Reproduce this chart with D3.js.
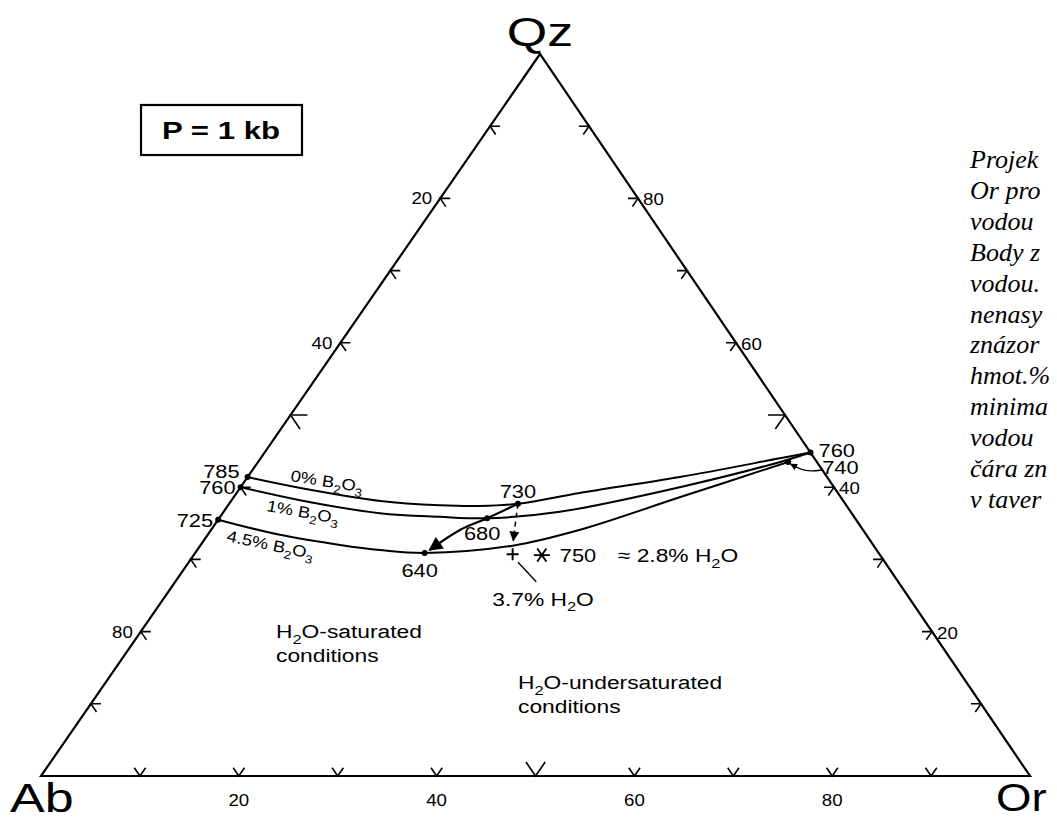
<!DOCTYPE html>
<html><head><meta charset="utf-8">
<script src="https://cdn.jsdelivr.net/npm/d3@7"></script>
<style>body{margin:0;background:#fff;overflow:hidden}svg{display:block}</style>
</head><body><svg id="c" width="1057" height="821"></svg>
<script>
// ---------- data (compositions in %, given as [Qz, Or]; Ab = 100 - Qz - Or) ----------
const apexLabels = ["Qz", "Ab", "Or"];
const gridSteps = [10, 20, 30, 40, 50, 60, 70, 80, 90];
const abTickLabels = [20, 40, 80];       // left edge (Ab %)
const qzTickLabels = [80, 60, 40, 20];   // right edge (Qz %)
const orTickLabels = [20, 40, 60, 80];   // base (Or %)

const curve0 = [[41.4,0],[39.9,6.1],[38.1,15.1],[37.5,21.4],[37.4,25.5],[37.7,29.2],[39.2,34.7],[41.4,43.7],[44.0,52.5],[44.8,55.2]];
const curve1 = [[40.0,0],[38.2,6.9],[36.4,15.9],[35.9,22.2],[35.7,27.1],[36.6,34.0],[40.0,44.4],[43.5,52.8],[44.8,55.2]];
const curve45 = [[35.5,0],[33.4,7.3],[32.0,14.1],[31.3,18.5],[30.9,23.2],[31.9,31.6],[34.1,37.3],[38.6,45.1],[43.5,53.6]];
const curvePct = ["0%", "1%", "4.5%"];

const minima = [[41.4,0],[40.0,0],[35.5,0],[37.7,29.2],[35.7,27.1],[30.9,23.2],[44.8,55.2],[43.5,53.6]];
const minimaTemps = ["785","760","725","730","680","640","760","740"];

const pathArrow = [[37.7,29.2],[35.7,27.1],[34.1,25.2],[31.3,23.5]];
const dashedArrow = [[37.7,29.2],[32.6,31.3]];
const plus37 = [30.7,32.2];
const star750 = [30.6,35.2];
const star750Temp = "750";
const leader37 = [[29.6,33.3],[26.9,36.5]];
const arc740 = [[42.4,57.7],[42.1,56.0],[43.2,54.0]];

const pressure = "P = 1 kb";
const czechLines = ["Projek","Or pro","vodou","Body z","vodou.","nenasy","znázor","hmot.%","minima","vodou","čára zn","v taver"];

// ---------- projection ----------
const svg = d3.select("#c");
const A = {ab:[41,776], or:[1030,776], qz:[540,54]};
const skew = (A.qz[0]-A.ab[0])/(A.or[0]-A.ab[0]);
const xS = d3.scaleLinear().domain([0,100]).range([A.ab[0], A.or[0]]);
const yS = d3.scaleLinear().domain([0,100]).range([A.ab[1], A.qz[1]]);
const P = d => [xS(d[1] + skew*d[0]), yS(d[0])];

const font = "'Liberation Sans', Arial, Helvetica, sans-serif";
const g = svg.append("g");

// stretched text helper
function T(x, y, opts){
  const o = Object.assign({size:18, sx:1.2, anchor:"start", rot:0, family:font, weight:"normal", style:"normal"}, opts);
  return g.append("text")
    .attr("transform", `translate(${x},${y}) rotate(${o.rot}) scale(${o.sx},1)`)
    .attr("text-anchor", o.anchor).attr("font-family", o.family).attr("font-size", o.size)
    .attr("font-weight", o.weight).attr("font-style", o.style);
}
// parts: array of [text, isSub]
function fill(sel, parts, size){
  let shifted = false;
  parts.forEach(([t, sub])=>{
    const ts = sel.append("tspan").text(t);
    if(sub){ ts.attr("font-size", size*0.72).attr("dy", size*0.3); shifted = true; }
    else { ts.attr("font-size", size); if(shifted){ ts.attr("dy", -size*0.3); shifted = false; } }
  });
  return sel;
}

// triangle
g.append("path")
  .attr("d", d3.line()([P([100,0]), P([0,0]), P([0,100])]) + "Z")
  .attr("fill","none").attr("stroke","#000").attr("stroke-width",2.2).attr("stroke-linejoin","miter");

// ticks
function unit(a,b){const dx=b[0]-a[0],dy=b[1]-a[1],l=Math.hypot(dx,dy);return [dx/l,dy/l];}
const dQzOr = unit(P([100,0]),P([0,100]));
const dQzAb = unit(P([100,0]),P([0,0]));
function tick(p, d1, d2, len){
  return d3.line()([[p[0]+d1[0]*len,p[1]+d1[1]*len], p, [p[0]+d2[0]*len,p[1]+d2[1]*len]]);
}
gridSteps.forEach(t=>{
  const len = t===50 ? 17 : 10;
  g.append("path").attr("d", tick(P([100-t,0]), [1,0], dQzOr, len)).attr("fill","none").attr("stroke","#000").attr("stroke-width",1.6);
  g.append("path").attr("d", tick(P([t,100-t]), [-1,0], dQzAb, len)).attr("fill","none").attr("stroke","#000").attr("stroke-width",1.6);
  g.append("path").attr("d", tick(P([0,t]), [-dQzOr[0],-dQzOr[1]], [-dQzAb[0],-dQzAb[1]], len)).attr("fill","none").attr("stroke","#000").attr("stroke-width",1.6);
});

// tick labels
abTickLabels.forEach(t=>{
  const p = P([100-t,0]);
  T(p[0]-8, p[1]+6, {size:17, sx:1.1, anchor:"end"}).text(t);
});
qzTickLabels.forEach(t=>{
  const p = P([t,100-t]);
  T(p[0]+5, p[1]+7, {size:17, sx:1.1}).text(t);
});
orTickLabels.forEach(t=>{
  const p = P([0,t]);
  T(p[0], p[1]+30, {size:17, sx:1.1, anchor:"middle"}).text(t);
});

// apex labels
const qzP = P([100,0]), abP = P([0,0]), orP = P([0,100]);
T(qzP[0], qzP[1]-8, {size:40, sx:1.3, anchor:"middle"}).text(apexLabels[0]);
T(abP[0]-31, abP[1]+36, {size:40, sx:1.3}).text(apexLabels[1]);
T(orP[0]-34, orP[1]+35, {size:38, sx:1.2}).text(apexLabels[2]);

// curves
const line = d3.line().x(d=>P(d)[0]).y(d=>P(d)[1]).curve(d3.curveCatmullRom.alpha(0.5));
[curve0, curve1, curve45].forEach(c=>{
  g.append("path").attr("d", line(c)).attr("fill","none").attr("stroke","#000").attr("stroke-width",2);
});

// markers
const defs = svg.append("defs");
function marker(id, w, h){
  defs.append("marker").attr("id",id).attr("viewBox","0 0 10 10").attr("refX",9).attr("refY",5)
    .attr("markerWidth",w).attr("markerHeight",h).attr("markerUnits","userSpaceOnUse").attr("orient","auto")
    .append("path").attr("d","M0,0L10,5L0,10Z").attr("fill","#000");
}
marker("ah",8,7); marker("ahBig",20,14); marker("ahMid",12,10);

g.append("path").attr("d", line(pathArrow)).attr("fill","none").attr("stroke","#000").attr("stroke-width",2.2)
  .attr("marker-end","url(#ahBig)");
g.append("path").attr("d", d3.line()(dashedArrow.map(P))).attr("fill","none").attr("stroke","#000")
  .attr("stroke-width",1.5).attr("stroke-dasharray","5,4").attr("marker-end","url(#ahMid)");
g.append("path").attr("d", d3.line().curve(d3.curveBasis)(arc740.map(P))).attr("fill","none").attr("stroke","#000")
  .attr("stroke-width",1.3).attr("marker-end","url(#ah)");
g.append("path").attr("d", d3.line()(leader37.map(P))).attr("stroke","#000").attr("stroke-width",1.4);

// minima dots
g.selectAll("circle.m").data(minima).join("circle").attr("class","m")
  .attr("cx",d=>P(d)[0]).attr("cy",d=>P(d)[1]).attr("r",3).attr("fill","#000");

// plus and star
{
  const p = P(plus37);
  g.append("path").attr("d",`M${p[0]-6},${p[1]}H${p[0]+6}M${p[0]},${p[1]-6}V${p[1]+6}`).attr("stroke","#000").attr("stroke-width",2);
  const s = P(star750);
  const arms = [0, 55, 125].map(a=>{const r=a*Math.PI/180, L=8; return `M${s[0]-L*Math.cos(r)},${s[1]-L*Math.sin(r)}L${s[0]+L*Math.cos(r)},${s[1]+L*Math.sin(r)}`;}).join("");
  g.append("path").attr("d",arms).attr("stroke","#000").attr("stroke-width",1.8);
}

// temperature labels
const tOff = [[-8,1,"end"],[-5,7,"end"],[-5,7,"end"],[0,-6,"middle"],[-5,22,"middle"],[-5,24,"middle"],[8,4,"start"],[34,12,"start"]];
minima.forEach((d,i)=>{
  const p = P(d);
  T(p[0]+tOff[i][0], p[1]+tOff[i][1], {size:19, sx:1.15, anchor:tOff[i][2]}).text(minimaTemps[i]);
});

// curve labels
const cLab = [[290,481,9],[266,511,10],[226,541,12]];
curvePct.forEach((n,i)=>{
  fill(T(cLab[i][0], cLab[i][1], {size:16, sx:1.15, rot:cLab[i][2]}), [[n+" B",0],["2",1],["O",0],["3",1]], 16);
});

// 750 / 2.8% H2O / 3.7% H2O
{
  const s = P(star750);
  T(s[0]+18, s[1]+7, {size:19, sx:1.15}).text(star750Temp);
  fill(T(s[0]+76, s[1]+7, {size:19, sx:1.2}), [["≈ 2.8% H",0],["2",1],["O",0]], 19);
  const l = P(leader37[1]);
  fill(T(l[0]-44, l[1]+24, {size:19, sx:1.2}), [["3.7% H",0],["2",1],["O",0]], 19);
}

// region labels
fill(T(276, 638, {size:19, sx:1.2}), [["H",0],["2",1],["O-saturated",0]], 19);
T(276, 662, {size:19, sx:1.2}).text("conditions");
fill(T(518, 689, {size:19, sx:1.2}), [["H",0],["2",1],["O-undersaturated",0]], 19);
T(518, 713, {size:19, sx:1.2}).text("conditions");

// pressure box
g.append("rect").attr("x",141).attr("y",105).attr("width",161).attr("height",50).attr("fill","none").attr("stroke","#000").attr("stroke-width",2.2);
T(221, 139, {size:24, sx:1.3, anchor:"middle", weight:"bold"}).text(pressure);

// Czech caption (visible part)
czechLines.forEach((s,i)=>{
  T(970, 168+i*30.9, {size:26, sx:1.0, family:"'Liberation Serif','Times New Roman',serif", style:"italic"}).text(s);
});
</script></body></html>
